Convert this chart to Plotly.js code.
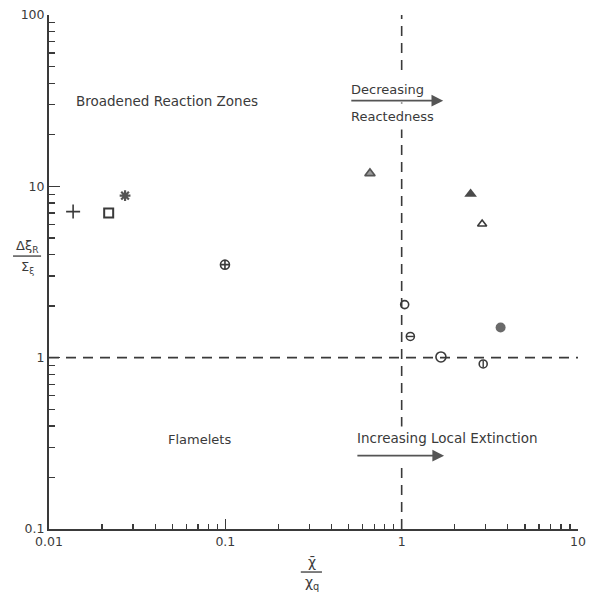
<!DOCTYPE html>
<html>
<head>
<meta charset="utf-8">
<script src="https://cdn.plot.ly/plotly-3.0.1.min.js"></script>
<style>html,body{margin:0;padding:0;background:#fff;}#chart{width:590px;height:592px;}</style>
</head>
<body>
<div id="chart"></div>
<script>
// ---- data ----
const seriesNames = ["plus", "square", "asterisk", "circlePlus", "grayTriangle", "filledTriangle", "openTriangle", "openCircleHigh", "thetaCircle", "openCircleLarge", "barCircle", "filledCircle"];
const seriesX = [0.0137, 0.0218, 0.027, 0.0995, 0.661, 2.46, 2.86, 1.04, 1.12, 1.67, 2.90, 3.64];
const seriesY = [7.12, 6.99, 8.83, 3.49, 11.9, 9.03, 6.03, 2.04, 1.33, 1.01, 0.919, 1.50];

const xTickVals = [0.01, 0.1, 1, 10];
const xTickText = ["0.01", "0.1", "1", "10"];
const yTickVals = [0.1, 1, 10, 100];
const yTickText = ["0.1", "1", "10", "100"];

const refLineX = 1;   // vertical dashed line
const refLineY = 1;   // horizontal dashed line

// ---- styles ----
const ink = "#3a3a3a";
const styles = {
  plus:            {symbol: "cross-thin-open", size: 10, color: ink, lw: 1.6},
  square:          {symbol: "square-open", size: 9, color: ink, lw: 2},
  asterisk:        {symbol: "asterisk-open", size: 9, color: "#555", lw: 2.2},
  circlePlus:      {symbol: "circle-cross-open", size: 9, color: ink, lw: 1.6},
  grayTriangle:    {symbol: "triangle-up", size: 9, color: "#9a9a9a", lw: 1.6, lc: "#555"},
  filledTriangle:  {symbol: "triangle-up", size: 11, color: "#4a4a4a", lw: 0},
  openTriangle:    {symbol: "triangle-up-open", size: 8, color: ink, lw: 1.6},
  openCircleHigh:  {symbol: "circle-open", size: 8, color: ink, lw: 1.6},
  thetaCircle:     {symbol: "circle-open", size: 8, color: ink, lw: 1.6, inner: "line-ew-open"},
  openCircleLarge: {symbol: "circle-open", size: 10, color: ink, lw: 1.6},
  barCircle:       {symbol: "circle-open", size: 8, color: ink, lw: 1.6, inner: "line-ns-open"},
  filledCircle:    {symbol: "circle", size: 10, color: "#6a6a6a", lw: 0}
};

const traces = [];
// dashed reference lines
traces.push({x: [xTickVals[0], xTickVals[3]], y: [refLineY, refLineY], mode: "lines",
  line: {color: ink, width: 1.6, dash: "10px,7px"}, hoverinfo: "skip", cliponaxis: false});
traces.push({x: [refLineX, refLineX], y: [yTickVals[0], yTickVals[3]], mode: "lines",
  line: {color: ink, width: 1.6, dash: "10px,7px"}, hoverinfo: "skip", cliponaxis: false});

seriesNames.forEach((name, i) => {
  const s = styles[name];
  traces.push({
    x: [seriesX[i]], y: [seriesY[i]], mode: "markers", name: name, cliponaxis: false,
    marker: {symbol: s.symbol, size: s.size, color: s.color,
             line: {color: s.lc || s.color, width: s.lw}}
  });
  if (s.inner) {
    traces.push({
      x: [seriesX[i]], y: [seriesY[i]], mode: "markers", cliponaxis: false,
      marker: {symbol: s.inner, size: s.size - 3, color: s.color, line: {color: s.color, width: 1.4}}
    });
  }
});

const fam = "DejaVu Sans";
const txtFont = {family: fam, size: 13.5, color: ink};
const txtFontS = {family: fam, size: 13, color: ink};
const lg = Math.log10;

const annotations = [
  {x: lg(0.0465), y: lg(31.6), text: "Broadened Reaction Zones", showarrow: false, font: txtFont, xanchor: "center", yanchor: "middle"},
  {x: lg(0.477), y: lg(36.7), text: "Decreasing", showarrow: false, font: txtFontS, xanchor: "left", yanchor: "middle", bgcolor: "#fff", borderpad: 5},
  {x: lg(0.477), y: lg(25.5), text: "Reactedness", showarrow: false, font: txtFontS, xanchor: "left", yanchor: "middle", bgcolor: "#fff", borderpad: 5},
  {x: lg(0.046), y: lg(0.332), text: "Flamelets", showarrow: false, font: txtFontS, xanchor: "left", yanchor: "middle"},
  {x: lg(0.528), y: lg(0.40), text: "Increasing Local Extinction<br> ", showarrow: false, font: txtFont, xanchor: "left", yanchor: "top", align: "left", bgcolor: "#fff", borderpad: 3},
  // arrows
  {x: lg(1.72), y: lg(31.6), ax: lg(0.508), ay: lg(31.6), axref: "x", ayref: "y", text: "", showarrow: true,
   arrowhead: 2, arrowsize: 1.3, arrowwidth: 1.8, arrowcolor: "#555"},
  {x: lg(1.74), y: lg(0.268), ax: lg(0.55), ay: lg(0.268), axref: "x", ayref: "y", text: "", showarrow: true,
   arrowhead: 2, arrowsize: 1.3, arrowwidth: 1.8, arrowcolor: "#555"},
  // y-axis title as fraction
  {xref: "paper", yref: "paper", x: -0.041, y: 0.549, text: "Δξ<sub>R</sub>", showarrow: false, font: {family: fam, size: 13, color: ink}, xanchor: "center", yanchor: "middle"},
  {xref: "paper", yref: "paper", x: -0.041, y: 0.509, text: "Σ<sub>ξ</sub>", showarrow: false, font: {family: fam, size: 13, color: ink}, xanchor: "center", yanchor: "middle"},
  // x-axis title as fraction
  {xref: "paper", yref: "paper", x: 0.497, y: -0.064, text: "χ̄", showarrow: false, font: {family: fam, size: 14, color: ink}, xanchor: "center", yanchor: "middle"},
  {xref: "paper", yref: "paper", x: 0.497, y: -0.106, text: "χ<sub>q</sub>", showarrow: false, font: {family: fam, size: 14, color: ink}, xanchor: "center", yanchor: "middle"}
];

const shapes = [
  {type: "line", xref: "paper", yref: "paper", x0: -0.068, x1: -0.015, y0: 0.531, y1: 0.531, line: {color: ink, width: 1.3}},
  {type: "line", xref: "paper", yref: "paper", x0: 0.476, x1: 0.516, y0: -0.0837, y1: -0.0837, line: {color: ink, width: 1.3}}
];

const axisCommon = {
  type: "log", showgrid: false, zeroline: false, showline: true, linecolor: ink, linewidth: 2,
  ticks: "inside", tickcolor: ink, tickwidth: 1.5, mirror: false,
  tickfont: {family: fam, size: 12.5, color: ink}, tickmode: "array"
};

const layout = {
  width: 590, height: 592,
  margin: {l: 49, r: 12, t: 15, b: 63},
  paper_bgcolor: "#fff", plot_bgcolor: "#fff",
  showlegend: false,
  xaxis: Object.assign({}, axisCommon, {range: [-2, 1], tickvals: xTickVals, ticktext: xTickText, ticklen: 10,
    minor: {ticks: "inside", ticklen: 5, tickcolor: ink, tickwidth: 1.3, dtick: "D1"}}),
  yaxis: Object.assign({}, axisCommon, {range: [-1, 2], tickvals: yTickVals, ticktext: yTickText, ticklen: 11,
    minor: {ticks: "inside", ticklen: 6, tickcolor: ink, tickwidth: 1.3, dtick: "D1"}}),
  annotations: annotations,
  shapes: shapes
};

Plotly.newPlot("chart", traces, layout, {displayModeBar: false, staticPlot: true});
</script>
</body>
</html>
